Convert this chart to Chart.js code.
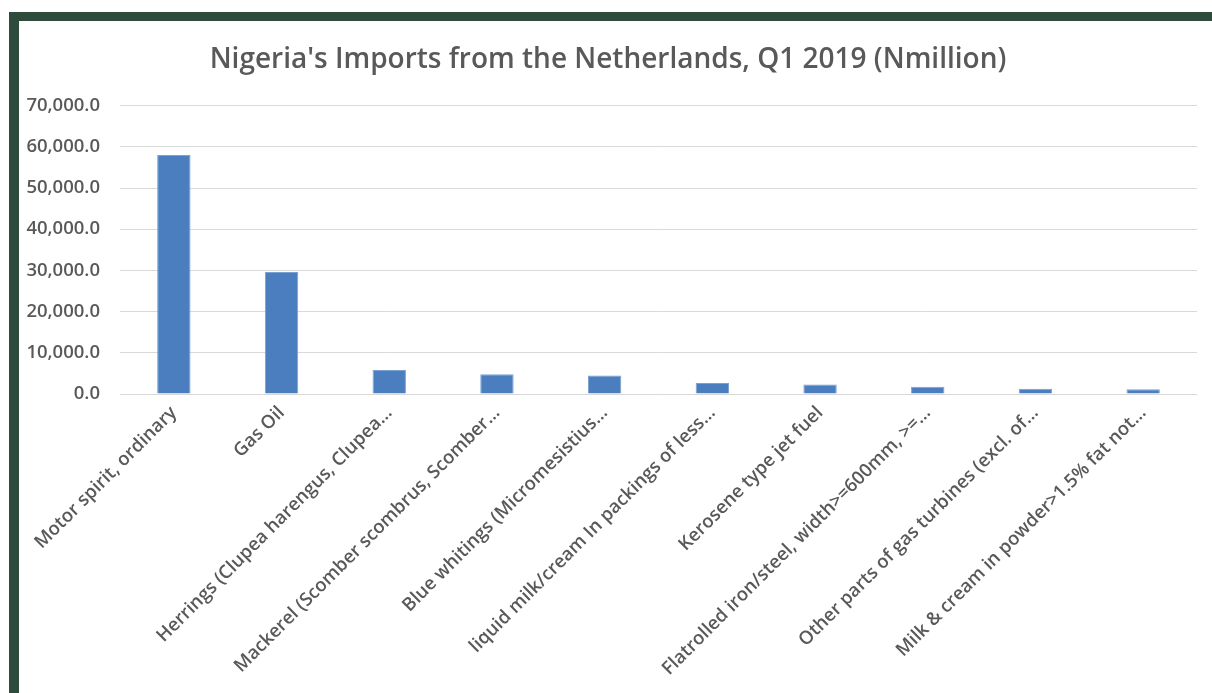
<!DOCTYPE html>
<html>
<head>
<meta charset="utf-8">
<script src="https://cdn.jsdelivr.net/npm/chart.js@4.4.1/dist/chart.umd.min.js"></script>
<style>
  html, body { margin: 0; padding: 0; background: #fff; }
  #frame {
    position: absolute; left: 9px; top: 12px;
    width: 1193px; height: 672px;
    border-top: 9px solid #2f4b3b;
    border-left: 10px solid #2f4b3b;
  }
  #wrap { position: relative; width: 1193px; height: 672px; }
</style>
</head>
<body>
<div id="frame"><div id="wrap"><canvas id="imports"></canvas></div></div>
<script>
// data (N million)
var categories = [
  "Motor spirit, ordinary",
  "Gas Oil",
  "Herrings (Clupea harengus, Clupea…",
  "Mackerel (Scomber scombrus, Scomber…",
  "Blue whitings (Micromesistius…",
  "liquid milk/cream In packings of less…",
  "Kerosene type jet fuel",
  "Flatrolled iron/steel, width>=600mm, >=…",
  "Other parts of gas turbines (excl. of…",
  "Milk & cream in powder>1.5% fat not…"
];
var imports = [58000, 29600, 5800, 4800, 4500, 2700, 2300, 1750, 1250, 1150];
var yTicks = [0, 10000, 20000, 30000, 40000, 50000, 60000, 70000];

var grey = "#595959";

new Chart(document.getElementById("imports"), {
  type: 'bar',
  data: {
    labels: categories,
    datasets: [{
      label: "Imports",
      data: imports,
      backgroundColor: "#4a7ebf",
      borderColor: "#79a1d3",
      borderWidth: 1,
      categoryPercentage: 1,
      barPercentage: 0.31
    }]
  },
  options: {
    responsive: true,
    maintainAspectRatio: false,
    animation: false,
    layout: { padding: { left: 0, right: 15, top: 0, bottom: 0 } },
    plugins: {
      legend: { display: false },
      tooltip: { enabled: false },
      title: {
        display: true,
        text: "Nigeria's Imports from the Netherlands, Q1 2019 (Nmillion)",
        color: grey,
        font: { family: "Open Sans", size: 28, weight: 600 },
        padding: { top: 22, bottom: 29 }
      }
    },
    scales: {
      x: {
        grid: { display: false, drawTicks: false },
        border: { display: false },
        ticks: {
          color: grey,
          font: { family: "Open Sans", size: 18.5, weight: 600 },
          maxRotation: 45,
          minRotation: 45,
          autoSkip: false,
          padding: 8
        },
        afterFit: function (s) { s.height = 299; }
      },
      y: {
        min: 0,
        max: 70000,
        afterBuildTicks: function (s) {
          s.ticks = yTicks.map(function (v) { return { value: v }; });
        },
        grid: { color: "#d9d9d9", lineWidth: 1, drawTicks: false },
        border: { display: false },
        ticks: {
          color: grey,
          font: { family: "Open Sans", size: 18.5, weight: 600 },
          padding: 20,
          callback: function (v) {
            return Number(v).toLocaleString("en-US", { minimumFractionDigits: 1, maximumFractionDigits: 1 });
          }
        },
        afterFit: function (s) { s.width = 101; }
      }
    }
  }
});
</script>
</body>
</html>
